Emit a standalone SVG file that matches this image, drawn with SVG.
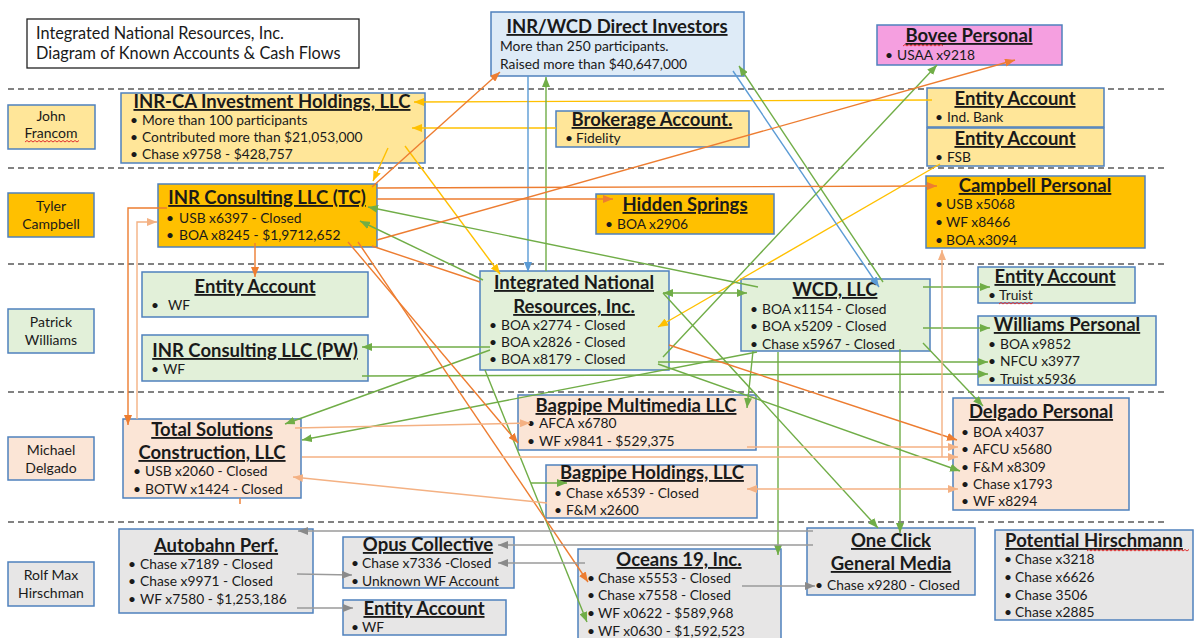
<svg xmlns="http://www.w3.org/2000/svg" width="1196" height="638" viewBox="0 0 1196 638">
<style>
.nb{stroke:#4F81BD;stroke-width:1.5}
.gold{fill:#FFC000}.lgold{fill:#FFE699}.lgreen{fill:#E2F0D9}.peach{fill:#FBE5D6}.grey{fill:#E7E6E6}.blue{fill:#DEEBF7}.pink{fill:#F59FE0}
text{font-family:Lato,"Liberation Sans",sans-serif;fill:#1a1a1a}
.t{font-weight:bold;font-size:18.5px;text-decoration:underline;text-anchor:middle}
.b{font-size:13.8px}
.p{font-size:14px;text-anchor:middle}
.h{font-size:16.3px}
.dash{stroke:#595959;stroke-width:1.5;stroke-dasharray:6 4;fill:none}
.c{fill:none;stroke-width:1.4}
.or{stroke:#ED7D31;marker-end:url(#mOr)}
.pe{stroke:#F4B183;marker-end:url(#mPe)}
.gr{stroke:#70AD47;marker-end:url(#mGr)}
.bl{stroke:#5B9BD5;marker-end:url(#mBl)}
.ye{stroke:#FFC000;marker-end:url(#mYe)}
.gy{stroke:#9A9A9A;marker-end:url(#mGy)}
.sq{fill:none;stroke:#E03030;stroke-width:1}
</style>
<defs>
<marker id="mOr" markerUnits="userSpaceOnUse" markerWidth="10" markerHeight="8" refX="10" refY="4" orient="auto-start-reverse"><path d="M0,0 L10,4 L0,8 z" fill="#ED7D31"/></marker>
<marker id="mPe" markerUnits="userSpaceOnUse" markerWidth="10" markerHeight="8" refX="10" refY="4" orient="auto-start-reverse"><path d="M0,0 L10,4 L0,8 z" fill="#F4B183"/></marker>
<marker id="mGr" markerUnits="userSpaceOnUse" markerWidth="10" markerHeight="8" refX="10" refY="4" orient="auto-start-reverse"><path d="M0,0 L10,4 L0,8 z" fill="#70AD47"/></marker>
<marker id="mBl" markerUnits="userSpaceOnUse" markerWidth="10" markerHeight="8" refX="10" refY="4" orient="auto-start-reverse"><path d="M0,0 L10,4 L0,8 z" fill="#5B9BD5"/></marker>
<marker id="mYe" markerUnits="userSpaceOnUse" markerWidth="10" markerHeight="8" refX="10" refY="4" orient="auto-start-reverse"><path d="M0,0 L10,4 L0,8 z" fill="#FFC000"/></marker>
<marker id="mGy" markerUnits="userSpaceOnUse" markerWidth="10" markerHeight="8" refX="10" refY="4" orient="auto-start-reverse"><path d="M0,0 L10,4 L0,8 z" fill="#8A8A8A"/></marker>
</defs>
<rect width="1196" height="638" fill="#ffffff"/>

<g id="lanes">
<line class="dash" x1="8" y1="89" x2="1165" y2="89"/>
<line class="dash" x1="8" y1="168" x2="1165" y2="168"/>
<line class="dash" x1="8" y1="264" x2="1165" y2="264"/>
<line class="dash" x1="8" y1="392" x2="1165" y2="392"/>
<line class="dash" x1="8" y1="522" x2="1165" y2="522"/>
</g>

<g id="title">
<rect x="27" y="19" width="332" height="49" fill="#fff" stroke="#222" stroke-width="1.3"/>
<text class="h" x="36" y="39">Integrated National Resources, Inc.</text>
<text class="h" x="36" y="59">Diagram of Known Accounts &amp; Cash Flows</text>
</g>

<g id="person-francom"><rect class="nb lgold" x="8" y="105" width="87" height="44"/><text class="p" x="51" y="121">John</text><text class="p" x="51" y="138">Francom</text><path class="sq" d="M25,142 l2,-1.5 l2,1.5 l2,-1.5 l2,1.5 l2,-1.5 l2,1.5 l2,-1.5 l2,1.5 l2,-1.5 l2,1.5 l2,-1.5 l2,1.5 l2,-1.5 l2,1.5 l2,-1.5 l2,1.5 l2,-1.5 l2,1.5 l2,-1.5 l2,1.5 l2,-1.5 l2,1.5 l2,-1.5 l2,1.5 l2,-1.5 l2,1.5 l2,-1.5"/></g>
<g id="person-campbell"><rect class="nb gold" x="8" y="193" width="86" height="44"/><text class="p" x="51" y="211">Tyler</text><text class="p" x="51" y="229">Campbell</text></g>
<g id="person-williams"><rect class="nb lgreen" x="8" y="309" width="86" height="44"/><text class="p" x="51" y="327">Patrick</text><text class="p" x="51" y="345">Williams</text></g>
<g id="person-delgado"><rect class="nb peach" x="8" y="437" width="86" height="43"/><text class="p" x="51" y="455">Michael</text><text class="p" x="51" y="473">Delgado</text></g>
<g id="person-hirschman"><rect class="nb grey" x="8" y="562" width="86" height="44"/><text class="p" x="51" y="580">Rolf Max</text><text class="p" x="51" y="598">Hirschman</text></g>

<g id="inr-ca"><rect class="nb lgold" x="121" y="93" width="304" height="70"/>
<text class="t" x="272" y="108">INR-CA Investment Holdings, LLC</text>
<text class="b" y="125"><tspan x="130">•</tspan><tspan x="142">More than 100 participants</tspan></text>
<text class="b" y="142"><tspan x="130">•</tspan><tspan x="142">Contributed more than $21,053,000</tspan></text>
<text class="b" y="159"><tspan x="130">•</tspan><tspan x="142">Chase x9758 - $428,757</tspan></text></g>

<g id="direct-investors"><rect class="nb blue" x="491" y="12" width="253" height="64"/>
<text class="t" x="617" y="33">INR/WCD Direct Investors</text>
<text class="b" x="500" y="51">More than 250 participants.</text>
<text class="b" x="500" y="69">Raised more than $40,647,000</text></g>

<g id="bovee"><rect class="nb pink" x="877" y="25" width="185" height="40"/>
<text class="t" x="969" y="42">Bovee Personal</text>
<text class="b" y="60"><tspan x="885">•</tspan><tspan x="897">USAA x9218</tspan></text>
<path class="sq" d="M903,46 l2,-1.5 l2,1.5 l2,-1.5 l2,1.5 l2,-1.5 l2,1.5 l2,-1.5 l2,1.5 l2,-1.5 l2,1.5 l2,-1.5 l2,1.5 l2,-1.5 l2,1.5 l2,-1.5 l2,1.5 l2,-1.5 l2,1.5 l2,-1.5 l2,1.5"/></g>

<g id="entity-indbank"><rect class="nb lgold" x="927" y="88" width="177" height="39"/>
<text class="t" x="1015" y="105">Entity Account</text>
<text class="b" y="122"><tspan x="935">•</tspan><tspan x="947">Ind. Bank</tspan></text></g>

<g id="entity-fsb"><rect class="nb lgold" x="927" y="128" width="177" height="38"/>
<text class="t" x="1015" y="145">Entity Account</text>
<text class="b" y="162"><tspan x="935">•</tspan><tspan x="947">FSB</tspan></text></g>

<g id="brokerage"><rect class="nb lgold" x="556" y="111" width="193" height="36"/>
<text class="t" x="652" y="126">Brokerage Account.</text>
<text class="b" y="143"><tspan x="565">•</tspan><tspan x="576">Fidelity</tspan></text></g>

<g id="inr-tc"><rect class="nb gold" x="158" y="184" width="219" height="63"/>
<text class="t" x="267" y="204">INR Consulting LLC (TC)</text>
<text class="b" y="223"><tspan x="166">•</tspan><tspan x="179">USB x6397 - Closed</tspan></text>
<text class="b" y="240"><tspan x="166">•</tspan><tspan x="179">BOA x8245 - $1,9712,652</tspan></text></g>

<g id="hidden-springs"><rect class="nb gold" x="596" y="194" width="178" height="40"/>
<text class="t" x="685" y="211">Hidden Springs</text>
<text class="b" y="229"><tspan x="605">•</tspan><tspan x="617">BOA x2906</tspan></text></g>

<g id="campbell-personal"><rect class="nb gold" x="926" y="176" width="219" height="72"/>
<text class="t" x="1035" y="192">Campbell Personal</text>
<text class="b" y="209"><tspan x="935">•</tspan><tspan x="946">USB x5068</tspan></text>
<text class="b" y="227"><tspan x="935">•</tspan><tspan x="946">WF x8466</tspan></text>
<text class="b" y="245"><tspan x="935">•</tspan><tspan x="946">BOA x3094</tspan></text></g>

<g id="entity-wf-green"><rect class="nb lgreen" x="142" y="272" width="226" height="45"/>
<text class="t" x="255" y="293">Entity Account</text>
<text class="b" y="310"><tspan x="151">•</tspan><tspan x="168">WF</tspan></text></g>

<g id="inr-pw"><rect class="nb lgreen" x="142" y="335" width="226" height="46"/>
<text class="t" x="255" y="357">INR Consulting LLC (PW)</text>
<text class="b" y="374"><tspan x="151">•</tspan><tspan x="163">WF</tspan></text></g>

<g id="integrated-national"><rect class="nb lgreen" x="480" y="271" width="189" height="99"/>
<text class="t" x="574" y="289">Integrated National</text>
<text class="t" x="574" y="313">Resources, Inc.</text>
<text class="b" y="330"><tspan x="489">•</tspan><tspan x="501">BOA x2774 - Closed</tspan></text>
<text class="b" y="347"><tspan x="489">•</tspan><tspan x="501">BOA x2826 - Closed</tspan></text>
<text class="b" y="364"><tspan x="489">•</tspan><tspan x="501">BOA x8179 - Closed</tspan></text></g>

<g id="wcd"><rect class="nb lgreen" x="741" y="279" width="189" height="72"/>
<text class="t" x="835" y="296">WCD, LLC</text>
<text class="b" y="314"><tspan x="750">•</tspan><tspan x="762">BOA x1154 - Closed</tspan></text>
<text class="b" y="331"><tspan x="750">•</tspan><tspan x="762">BOA x5209 - Closed</tspan></text>
<text class="b" y="349"><tspan x="750">•</tspan><tspan x="762">Chase x5967 - Closed</tspan></text></g>

<g id="entity-truist"><rect class="nb lgreen" x="978" y="267" width="157" height="36"/>
<text class="t" x="1055" y="283">Entity Account</text>
<text class="b" y="300"><tspan x="988">•</tspan><tspan x="999">Truist</tspan></text>
<path class="sq" d="M999,304 l2,-1.5 l2,1.5 l2,-1.5 l2,1.5 l2,-1.5 l2,1.5 l2,-1.5 l2,1.5 l2,-1.5 l2,1.5 l2,-1.5 l2,1.5 l2,-1.5 l2,1.5 l2,-1.5 l2,1.5 l2,-1.5"/></g>

<g id="williams-personal"><rect class="nb lgreen" x="978" y="316" width="178" height="69"/>
<text class="t" x="1067" y="331">Williams Personal</text>
<text class="b" y="349"><tspan x="988">•</tspan><tspan x="1000">BOA x9852</tspan></text>
<text class="b" y="366"><tspan x="988">•</tspan><tspan x="1000">NFCU x3977</tspan></text>
<text class="b" y="384"><tspan x="988">•</tspan><tspan x="1000">Truist x5936</tspan></text></g>

<g id="total-solutions"><rect class="nb peach" x="123" y="419" width="178" height="79"/>
<text class="t" x="212" y="436">Total Solutions</text>
<text class="t" x="212" y="459">Construction, LLC</text>
<text class="b" y="476"><tspan x="133">•</tspan><tspan x="145">USB x2060 - Closed</tspan></text>
<text class="b" y="494"><tspan x="133">•</tspan><tspan x="145">BOTW x1424 - Closed</tspan></text></g>

<g id="bagpipe-multimedia"><rect class="nb peach" x="518" y="395" width="238" height="55"/>
<text class="t" x="636" y="412">Bagpipe Multimedia LLC</text>
<text class="b" y="428"><tspan x="527">•</tspan><tspan x="539">AFCA x6780</tspan></text>
<text class="b" y="446"><tspan x="527">•</tspan><tspan x="539">WF x9841 - $529,375</tspan></text></g>

<g id="bagpipe-holdings"><rect class="nb peach" x="546" y="465" width="211" height="53"/>
<text class="t" x="652" y="479">Bagpipe Holdings, LLC</text>
<text class="b" y="498"><tspan x="554">•</tspan><tspan x="566">Chase x6539 - Closed</tspan></text>
<text class="b" y="515"><tspan x="554">•</tspan><tspan x="566">F&amp;M x2600</tspan></text></g>

<g id="delgado-personal"><rect class="nb peach" x="953" y="398" width="176" height="112"/>
<text class="t" x="1041" y="418">Delgado Personal</text>
<text class="b" y="437"><tspan x="961">•</tspan><tspan x="973">BOA x4037</tspan></text>
<text class="b" y="454"><tspan x="961">•</tspan><tspan x="973">AFCU x5680</tspan></text>
<text class="b" y="472"><tspan x="961">•</tspan><tspan x="973">F&amp;M x8309</tspan></text>
<text class="b" y="489"><tspan x="961">•</tspan><tspan x="973">Chase x1793</tspan></text>
<text class="b" y="506"><tspan x="961">•</tspan><tspan x="973">WF x8294</tspan></text></g>

<g id="autobahn"><rect class="nb grey" x="119" y="529" width="194" height="84"/>
<text class="t" x="216" y="552">Autobahn Perf.</text>
<text class="b" y="569"><tspan x="128">•</tspan><tspan x="140">Chase x7189 - Closed</tspan></text>
<text class="b" y="586"><tspan x="128">•</tspan><tspan x="140">Chase x9971 - Closed</tspan></text>
<text class="b" y="604"><tspan x="128">•</tspan><tspan x="140">WF x7580 - $1,253,186</tspan></text></g>

<g id="opus"><rect class="nb grey" x="343" y="537" width="171" height="51"/>
<text class="t" x="428" y="551">Opus Collective</text>
<text class="b" y="568"><tspan x="351">•</tspan><tspan x="362">Chase x7336 -Closed</tspan></text>
<text class="b" y="586"><tspan x="351">•</tspan><tspan x="362">Unknown WF Account</tspan></text></g>

<g id="entity-wf-grey"><rect class="nb grey" x="343" y="600" width="163" height="35"/>
<text class="t" x="424" y="615">Entity Account</text>
<text class="b" y="632"><tspan x="351">•</tspan><tspan x="362">WF</tspan></text></g>

<g id="oceans19"><rect class="nb grey" x="578" y="549" width="203" height="92"/>
<text class="t" x="679" y="566">Oceans 19, Inc.</text>
<text class="b" y="583"><tspan x="587">•</tspan><tspan x="598">Chase x5553 - Closed</tspan></text>
<text class="b" y="600"><tspan x="587">•</tspan><tspan x="598">Chase x7558 - Closed</tspan></text>
<text class="b" y="618"><tspan x="587">•</tspan><tspan x="598">WF x0622 - $589,968</tspan></text>
<text class="b" y="636"><tspan x="587">•</tspan><tspan x="598">WF x0630 - $1,592,523</tspan></text></g>

<g id="one-click"><rect class="nb grey" x="807" y="528" width="168" height="67"/>
<text class="t" x="891" y="547">One Click</text>
<text class="t" x="891" y="570">General Media</text>
<text class="b" y="590"><tspan x="815">•</tspan><tspan x="827">Chase x9280 - Closed</tspan></text></g>

<g id="potential-hirschmann"><rect class="nb grey" x="995" y="530" width="198" height="90"/>
<text class="t" x="1094" y="547">Potential Hirschmann</text>
<text class="b" y="564"><tspan x="1004">•</tspan><tspan x="1015">Chase x3218</tspan></text>
<text class="b" y="582"><tspan x="1004">•</tspan><tspan x="1015">Chase x6626</tspan></text>
<text class="b" y="600"><tspan x="1004">•</tspan><tspan x="1015">Chase 3506</tspan></text>
<text class="b" y="617"><tspan x="1004">•</tspan><tspan x="1015">Chase x2885</tspan></text>
<path class="sq" d="M1087,551 l2,-1.5 l2,1.5 l2,-1.5 l2,1.5 l2,-1.5 l2,1.5 l2,-1.5 l2,1.5 l2,-1.5 l2,1.5 l2,-1.5 l2,1.5 l2,-1.5 l2,1.5 l2,-1.5 l2,1.5 l2,-1.5 l2,1.5 l2,-1.5 l2,1.5 l2,-1.5 l2,1.5 l2,-1.5 l2,1.5 l2,-1.5 l2,1.5 l2,-1.5 l2,1.5 l2,-1.5 l2,1.5 l2,-1.5 l2,1.5 l2,-1.5 l2,1.5 l2,-1.5 l2,1.5 l2,-1.5 l2,1.5 l2,-1.5 l2,1.5 l2,-1.5 l2,1.5 l2,-1.5 l2,1.5 l2,-1.5 l2,1.5 l2,-1.5 l2,1.5 l2,-1.5 l2,1.5 l2,-1.5"/></g>

<g id="connectors">
<path class="c ye" d="M932,100 L414,102"/>
<path class="c ye" d="M556,128 L412,128"/>
<path class="c ye" d="M405,146 L500,274"/>
<path class="c ye" d="M388,148 L373,181"/>
<path class="c ye" d="M940,164 L658,327"/>
<path class="c bl" d="M528,76 L528,272"/>
<path class="c bl" d="M733,71 L879,287"/>
<path class="c gr" d="M546,271 L546,77"/>
<path class="c gr" d="M883,282 L739,66"/>
<path class="c gr" d="M663,357 L937,65"/>
<path class="c gr" d="M758,287 L368,207"/>
<path class="c gr" d="M483,280 L360,221"/>
<path class="c gr" style="marker-start:url(#mGr)" d="M663,293 L747,293"/>
<path class="c gr" d="M663,293 L878,528"/>
<path class="c gr" d="M900,349 L900,533"/>
<path class="c gr" d="M658,364 L960,471"/>
<path class="c gr" d="M923,343 L983,406"/>
<path class="c gr" d="M658,362 L988,362"/>
<path class="c gr" d="M362,376 L988,374"/>
<path class="c gr" d="M490,347 L362,347"/>
<path class="c gr" d="M490,350 L285,424"/>
<path class="c gr" d="M757,352 L302,440"/>
<path class="c gr" d="M753,351 L747,408"/>
<path class="c gr" d="M485,370 L587,622"/>
<path class="c gr" d="M531,483 L567,483"/>
<path class="c gr" d="M778,352 L778,555"/>
<path class="c gr" d="M923,287 L990,287"/>
<path class="c gr" d="M923,328 L990,328"/>
<path class="c or" d="M372,187 L500,72"/>
<path class="c or" d="M377,188 L937,186"/>
<path class="c or" d="M377,199 L613,199"/>
<path class="c or" d="M377,240 L1015,60"/>
<path class="c or" d="M255,243 L255,277"/>
<path class="c or" d="M167,208 L128,208 L128,425"/>
<path class="c or" d="M348,242 L518,443"/>
<path class="c or" d="M358,242 L588,582"/>
<path class="c or" d="M372,246 L480,282 M669,345 L957,440"/>
<path class="c pe" d="M137,419 L137,222 L157,222"/>
<path class="c pe" d="M295,428 L530,423"/>
<path class="c pe" d="M302,457 L958,457"/>
<path class="c pe" d="M747,447 L958,447"/>
<path class="c pe" d="M942,457 L942,250"/>
<path class="c pe" style="marker-start:url(#mPe)" d="M747,489 L958,489"/>
<path class="c pe" d="M547,503 L293,477"/>
<path class="c" stroke="#ED7D31" d="M240,498 L240,504"/>
<path class="c gy" d="M813,531 L298,531"/>
<path class="c gy" d="M813,545 L498,545"/>
<path class="c gy" d="M585,563 L498,563"/>
<path class="c gy" d="M297,574 L352,575"/>
<path class="c gy" d="M297,608 L353,608"/>
<path class="c gy" d="M742,586 L815,586"/>
</g>
</svg>
